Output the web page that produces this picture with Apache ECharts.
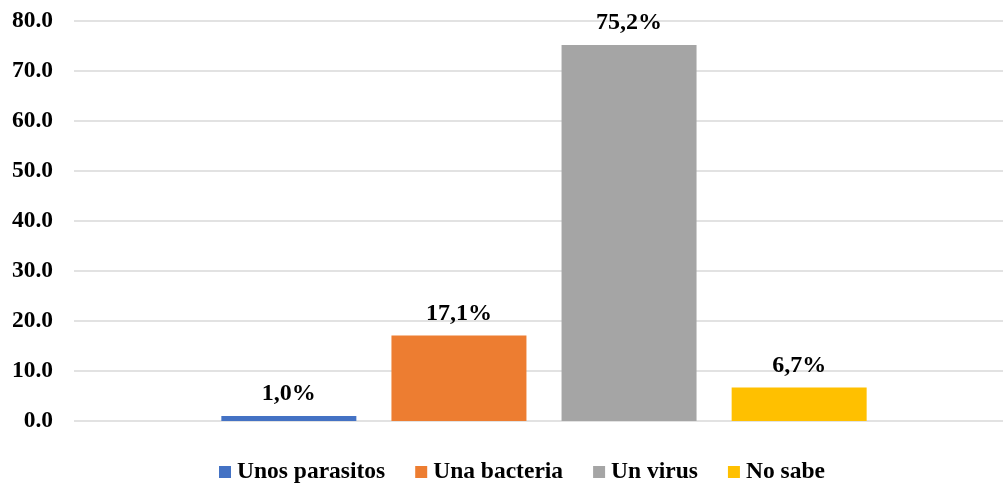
<!DOCTYPE html>
<html><head><meta charset="utf-8">
<script src="https://cdn.jsdelivr.net/npm/echarts@6/dist/echarts.min.js"></script>
<style>html,body{margin:0;padding:0;background:#fff}#c{width:1003px;height:486px}</style>
</head><body><div id="c"></div>
<script>
const categories = [''];
const seriesNames = ['Unos parasitos', 'Una bacteria', 'Un virus', 'No sabe'];
const seriesValues = [1.0, 17.1, 75.2, 6.7];
const seriesLabels = ['1,0%', '17,1%', '75,2%', '6,7%'];
const colors = ['#4472c4', '#ed7d31', '#a5a5a5', '#ffc000'];
const yTicks = { min: 0, max: 80, interval: 10 };

const font = '"Liberation Serif", "Times New Roman", serif';
const chart = echarts.init(document.getElementById('c'), null, { renderer: 'canvas' });
chart.setOption({
  animation: false,
  grid: { left: 74, width: 940, top: 21, bottom: 65, containLabel: false, outerBoundsMode: 'none' },
  legend: {
    top: 455, left: 214,
    itemWidth: 12, itemHeight: 12, itemGap: 30,
    icon: 'rect',
    textStyle: { fontFamily: font, fontWeight: 'bold', fontSize: 23.5, color: '#000', padding: [0, 0, 0, 1] },
    data: seriesNames
  },
  xAxis: {
    type: 'category', data: categories,
    axisLine: { show: false }, axisTick: { show: false }, axisLabel: { show: false }
  },
  yAxis: {
    type: 'value', min: yTicks.min, max: yTicks.max, interval: yTicks.interval,
    axisLabel: { formatter: v => v.toFixed(1), fontFamily: font, fontWeight: 'bold', fontSize: 23.5, color: '#000', margin: 21 },
    splitLine: { lineStyle: { color: '#d9d9d9', width: 1.5 } },
    axisLine: { show: false }, axisTick: { show: false }
  },
  series: seriesNames.map((n, i) => ({
    name: n, type: 'bar', data: [seriesValues[i]],
    barWidth: 135, barGap: '26%',
    itemStyle: { color: colors[i] },
    label: {
      show: true, position: 'top', distance: 10,
      formatter: () => seriesLabels[i],
      fontFamily: font, fontWeight: 'bold', fontSize: 24, color: '#000'
    }
  }))
});
</script></body></html>
